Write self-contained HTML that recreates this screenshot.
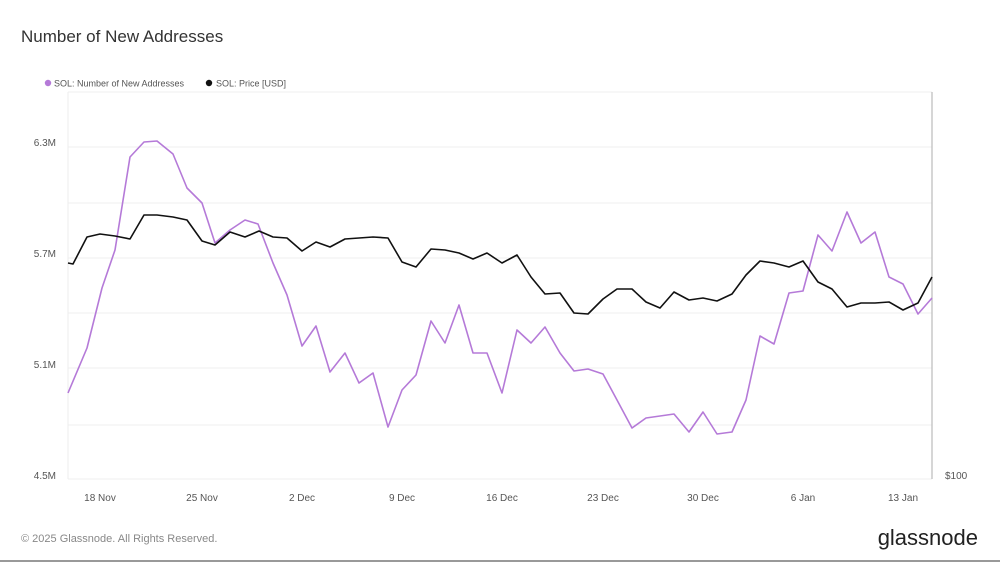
<!DOCTYPE html>
<html><head><meta charset="utf-8"><style>
body{margin:0;width:1000px;height:563px;background:#fff;overflow:hidden;font-family:"Liberation Sans",sans-serif;}
</style></head><body>
<svg width="1000" height="563" viewBox="0 0 1000 563" xmlns="http://www.w3.org/2000/svg" font-family="Liberation Sans, sans-serif">
<rect width="1000" height="563" fill="#fff"/>
<text x="21" y="42" font-size="17" fill="#333">Number of New Addresses</text>
<circle cx="48" cy="83" r="3.2" fill="#b57ad8"/>
<text x="54" y="86.5" font-size="9" fill="#555">SOL: Number of New Addresses</text>
<circle cx="209" cy="83" r="3.2" fill="#111"/>
<text x="216" y="86.5" font-size="9" fill="#555">SOL: Price [USD]</text>
<g stroke="#efefef" stroke-width="1">
<line x1="68" y1="92" x2="932" y2="92"/>
<line x1="68" y1="147" x2="932" y2="147"/>
<line x1="68" y1="203" x2="932" y2="203"/>
<line x1="68" y1="258" x2="932" y2="258"/>
<line x1="68" y1="313" x2="932" y2="313"/>
<line x1="68" y1="368" x2="932" y2="368"/>
<line x1="68" y1="425" x2="932" y2="425"/>
<line x1="68" y1="479" x2="932" y2="479"/>
</g>
<line x1="68" y1="92" x2="68" y2="479" stroke="#eee"/>
<line x1="932" y1="92" x2="932" y2="479" stroke="#bbb" stroke-width="1.2"/>
<g font-size="10" fill="#555" text-anchor="end">
<text x="56" y="146">6.3M</text><text x="56" y="257">5.7M</text><text x="56" y="368">5.1M</text><text x="56" y="479">4.5M</text>
</g>
<text x="945" y="479" font-size="10" fill="#555">$100</text>
<g font-size="10" fill="#555" text-anchor="middle">
<text x="100" y="501">18 Nov</text><text x="202" y="501">25 Nov</text><text x="302" y="501">2 Dec</text><text x="402" y="501">9 Dec</text><text x="502" y="501">16 Dec</text><text x="603" y="501">23 Dec</text><text x="703" y="501">30 Dec</text><text x="803" y="501">6 Jan</text><text x="903" y="501">13 Jan</text>
</g>
<polyline fill="none" stroke="#b57ad8" stroke-width="1.6" stroke-linejoin="round" points="68,393 87,348 102,288 115,250 130,157 144,142 157,141 173,154 187,188 202,203 215,243 230,230 245,220 258,224 273,263 287,295 302,346 316,326 330,372 345,353 359,383 373,373 388,427 402,390 416,375 431,321 445,343 459,305 473,353 487,353 502,393 517,330 531,343 545,327 560,353 574,371 588,369 603,374 617,400 632,428 646,418 660,416 674,414 689,432 703,412 717,434 732,432 746,400 760,336 774,344 789,293 803,291 818,235 832,251 847,212 861,243 875,232 889,277 903,284 918,314 932,298"/>
<polyline fill="none" stroke="#111" stroke-width="1.6" stroke-linejoin="round" points="68,263 73,264 87,237 100,234 115,236 130,239 144,215 157,215 173,217 187,220 202,241 215,245 230,232 245,237 259,231 273,237 287,238 302,251 316,242 330,247 345,239 359,238 373,237 388,238 402,262 416,267 431,249 445,250 459,253 473,259 487,253 502,263 517,255 531,277 545,294 560,293 574,313 588,314 603,299 617,289 632,289 646,302 660,308 674,292 689,300 703,298 717,301 732,294 746,275 760,261 774,263 789,267 803,261 818,282 832,289 847,307 861,303 875,303 889,302 903,310 918,303 932,277"/>
<text x="21" y="542" font-size="11" fill="#888">© 2025 Glassnode. All Rights Reserved.</text>
<text x="978" y="545" font-size="22" fill="#222" text-anchor="end">glassnode</text>
<line x1="0" y1="561" x2="1000" y2="561" stroke="#999" stroke-width="2"/>
</svg>
</body></html>
